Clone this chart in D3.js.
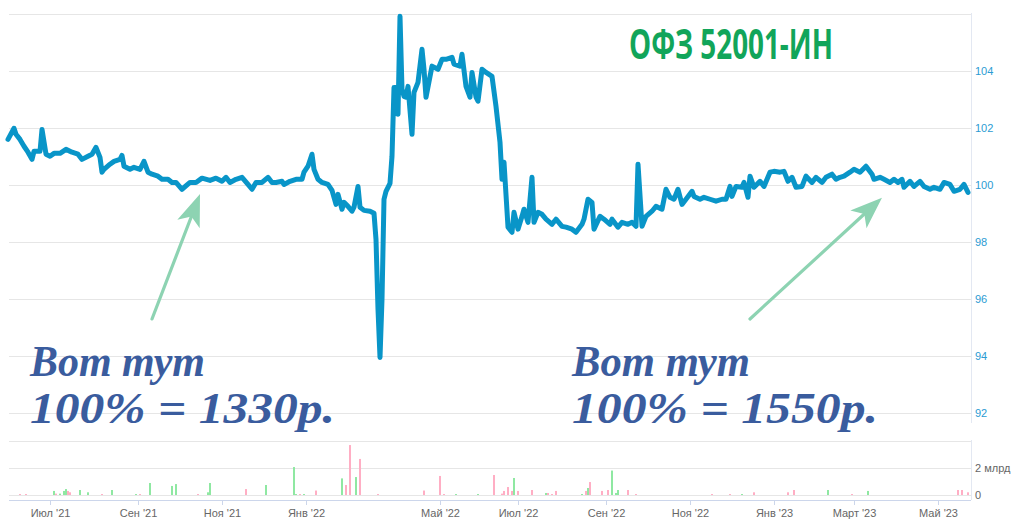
<!DOCTYPE html>
<html><head><meta charset="utf-8">
<script src="https://cdn.jsdelivr.net/npm/d3@7"></script>
<style>
html,body{margin:0;padding:0;background:#fff;}
svg{display:block;font-family:"Liberation Sans",Arial,sans-serif;}
</style></head>
<body>
<svg id="chart" width="1012" height="531"></svg>
<script>
// ---- Data (x = trading-day index from the first point) ----
const title = "ОФЗ 52001-ИН";
const priceDays = [0,3,4,6,8,10,12,13,16,17,19,21,23,26,29,32,35,37,40,42,44,46,47,48,51,53,56,57,58,61,63,66,68,70,72,75,77,80,82,
84,87,91,94,97,101,104,107,109,111,114,117,120,122,124,127,130,132,134,137,138,141,144,147,148,150,152,153,155,157,160,
162,164,165,167,168,170,172,173,175,176,178,181,183,184,185,186,187,188,189,191,192,193,194,195,196,197,198,199,200,202,203,205,207,208,209,211,212,215,217,219,222,223,226,227,229,231,232,234,235,237,239,242,244,246,247,248,
250,252,253,255,257,258,260,262,263,265,267,269,272,274,277,279,282,284,287,288,290,292,293,296,298,301,302,305,307,310,312,314,315,317,319,322,324,327,329,331,
333,335,337,339,342,343,346,348,351,354,357,359,361,362,364,367,368,370,371,373,376,378,381,383,386,388,390,392,394,397,399,402,404,407,409,412,414,
416,418,421,423,426,429,432,433,436,438,441,443,445,447,448,451,453,456,458,461,463,466,468,471,473,476,478,480];
const priceValues = [101.60,101.99,101.78,101.60,101.36,101.15,100.90,101.18,101.18,101.95,101.08,101.01,101.11,101.11,101.25,101.15,101.08,100.90,101.01,101.08,101.32,100.97,100.45,100.55,100.73,100.83,100.90,101.04,100.66,100.55,100.62,100.55,100.83,100.45,100.38,100.31,100.20,100.20,100.09,
100.09,99.85,100.09,100.09,100.24,100.16,100.24,100.13,100.27,100.09,100.20,100.27,100.02,99.85,100.09,100.09,100.27,100.09,100.09,100.13,100.02,100.13,100.20,100.20,100.45,100.66,101.08,100.55,100.20,100.09,100.02,
99.81,99.32,99.67,99.15,99.39,99.25,99.08,99.22,99.95,99.22,99.11,99.08,99.01,98.09,95.64,93.95,95.99,99.50,99.78,100.06,101.01,103.42,103.42,102.48,105.92,103.36,103.11,103.08,103.46,101.78,103.25,103.60,104.76,104.06,103.08,103.81,104.17,104.06,104.41,104.41,104.48,104.24,104.17,104.59,103.46,103.08,103.95,103.08,102.94,104.06,103.95,103.81,102.76,101.50,100.20,100.80,
98.52,98.34,99.04,98.45,98.90,99.15,98.69,100.27,98.69,99.04,98.97,98.80,98.62,98.80,98.55,98.52,98.45,98.34,98.62,98.80,99.50,99.39,98.45,98.90,98.80,98.62,98.80,98.52,98.69,98.62,98.69,98.55,100.73,98.55,98.90,99.08,99.25,99.15,99.85,99.57,
99.50,99.85,99.32,99.50,99.78,99.60,99.50,99.57,99.50,99.43,99.50,99.50,99.95,99.60,99.95,99.92,100.09,99.57,100.31,99.92,100.13,99.95,100.45,100.48,100.45,100.48,100.13,100.27,99.92,99.95,100.31,100.09,100.27,100.09,100.27,100.38,100.20,
100.27,100.31,100.45,100.55,100.45,100.66,100.38,100.20,100.27,100.20,100.09,100.20,100.09,100.20,99.92,100.13,99.95,100.13,99.95,99.85,99.92,99.85,100.09,100.02,99.78,99.85,100.02,99.74];

const volumeDays = [6,9,23,24,26,28,29,30,31,36,40,47,52,64,66,71,82,84,95,100,101,119,129,143,144,146,148,154,167,169,171,174,176,185,208,216,218,224,235,243,
247,248,250,252,253,255,262,269,270,272,274,287,289,290,291,297,300,302,304,305,310,314,352,361,367,373,390,393,410,422,430,475,477,480];
const volumeValues = [0.07,0.07,0.30,0.10,0.10,0.30,0.44,0.30,0.20,0.37,0.20,0.07,0.37,0.07,0.07,0.89,0.67,0.81,0.07,0.20,0.89,0.44,0.74,2.07,0.07,0.07,0.07,0.33,1.23,0.74,3.70,1.33,2.67,0.07,0.33,1.41,0.07,0.07,0.07,1.48,
0.10,0.30,0.59,0.30,1.26,0.30,0.37,0.15,0.15,0.07,0.30,0.07,0.30,0.52,0.96,0.30,0.37,1.81,0.15,0.37,0.37,0.07,0.07,0.07,0.07,0.20,0.20,0.37,0.37,0.07,0.30,0.37,0.37,0.20];
const volumeUp = [0,0,1,0,1,1,1,0,0,1,1,0,1,1,0,1,1,1,0,1,1,0,1,1,1,0,1,0,1,0,0,1,0,0,0,0,0,1,1,0,
0,0,0,0,1,0,0,1,0,0,0,1,0,1,0,0,0,1,1,1,0,0,0,0,1,0,0,0,1,0,1,0,0,0];

const monthTickDays = [21,65,107,149,216,255,299,341,383,423,465];
const monthTickLabels = ["Июл '21","Сен '21","Ноя '21","Янв '22","Май '22","Июл '22","Сен '22","Ноя '22","Янв '23","Март '23","Май '23"];
const priceTicks = [92,94,96,98,100,102,104];
const priceGrid = [92,94,96,98,100,102,104,106];
const volumeTicks = [0,2];
const volumeTickLabels = ["0","2 млрд"];
const volumeGrid = [0,2,4];

// annotations: arrow tip anchored on the data (day, price)
const notes = [
  {line1:"Вот тут", line2:"100% = 1330р.", tipDay:96, tipPrice:99.68, tailDay:72, tailPrice:95.3, textDay:11, len1:175, len2:305},
  {line1:"Вот тут", line2:"100% = 1550р.", tipDay:437, tipPrice:99.55, tailDay:371, tailPrice:95.3, textDay:282, len1:178, len2:306}
];

// ---- Layout ----
const svg = d3.select("#chart");
const left = 9, right = 971;
const x = d3.scaleLinear().domain([0,480]).range([8,968]);
const y = d3.scaleLinear().domain([92,106]).range([413,14]);
const yv = d3.scaleLinear().domain([0,4]).range([495,441]);

// price grid
svg.append("g").selectAll("line").data(priceGrid).join("line")
  .attr("x1",left).attr("x2",right).attr("y1",d=>Math.round(y(d))+0.5).attr("y2",d=>Math.round(y(d))+0.5)
  .attr("stroke","#e6e6e6");
svg.append("line").attr("x1",right+0.5).attr("x2",right+0.5).attr("y1",13).attr("y2",423).attr("stroke","#e3e8f2");

// volume grid
svg.append("g").selectAll("line").data(volumeGrid).join("line")
  .attr("x1",left).attr("x2",right).attr("y1",d=>Math.round(yv(d))+0.5).attr("y2",d=>Math.round(yv(d))+0.5)
  .attr("stroke","#e6e6e6");
svg.append("line").attr("x1",right+0.5).attr("x2",right+0.5).attr("y1",440).attr("y2",500).attr("stroke","#e3e8f2");

// price axis labels
const pa = svg.append("g").attr("transform",`translate(${right},0)`)
  .call(d3.axisRight(y).tickValues(priceTicks).tickSize(0).tickPadding(4).tickFormat(d3.format("d")));
pa.select(".domain").remove();
pa.selectAll("text").attr("fill","#2b9bd3").attr("font-size",11).attr("font-family","Liberation Sans, Arial, sans-serif");

// volume axis labels
const va = svg.append("g").attr("transform",`translate(${right},0)`)
  .call(d3.axisRight(yv).tickValues(volumeTicks).tickSize(0).tickPadding(4).tickFormat((d,i)=>volumeTickLabels[i]));
va.select(".domain").remove();
va.selectAll("text").attr("fill","#666").attr("font-size",11).attr("font-family","Liberation Sans, Arial, sans-serif");

// x axis
const xa = svg.append("g").attr("transform","translate(0,500)")
  .call(d3.axisBottom(x).tickValues(monthTickDays).tickSize(5).tickPadding(4).tickFormat((d,i)=>monthTickLabels[i]));
xa.select(".domain").attr("d",`M${left},0.5H${right}`).attr("stroke","#ccd6eb");
xa.selectAll(".tick line").attr("stroke","#ccd6eb");
xa.selectAll("text").attr("fill","#666").attr("font-size",11).attr("font-family","Liberation Sans, Arial, sans-serif");

// volume bars
const vol = volumeDays.map((d,i)=>({d, v:volumeValues[i], up:volumeUp[i]}));
svg.append("g").selectAll("rect").data(vol).join("rect")
  .attr("x",d=>x(d.d)-1).attr("width",2)
  .attr("y",d=>yv(d.v)).attr("height",d=>yv(0)-yv(d.v))
  .attr("fill",d=>d.up ? "#8fe8a2" : "#ffaec4");

// price line
const pts = priceDays.map((d,i)=>[d, priceValues[i]]);
svg.append("path").datum(pts)
  .attr("d", d3.line().x(d=>x(d[0])).y(d=>y(d[1])))
  .attr("fill","none").attr("stroke","#0995c8").attr("stroke-width",5)
  .attr("stroke-linejoin","round").attr("stroke-linecap","round");

// title
svg.append("text").attr("x",629).attr("y",59).text(title)
  .attr("font-family","'Liberation Sans Narrow','Open Sans',sans-serif").attr("font-weight","bold")
  .attr("font-size",41).attr("fill","#11a55a")
  .attr("textLength",204).attr("lengthAdjust","spacingAndGlyphs");

// annotations
notes.forEach(n=>{
  const tx = x(n.tipDay), ty = y(n.tipPrice);
  const sx = x(n.tailDay), sy = y(n.tailPrice);
  const ang = Math.atan2(ty-sy, tx-sx);
  const headLen = 32, headW = 12;
  const bx = tx - headLen*Math.cos(ang), by = ty - headLen*Math.sin(ang);
  const nx = -Math.sin(ang), ny = Math.cos(ang);
  svg.append("line").attr("x1",sx).attr("y1",sy).attr("x2",bx + 8*Math.cos(ang)).attr("y2",by + 8*Math.sin(ang))
    .attr("stroke","#8dd3b2").attr("stroke-width",3.2).attr("stroke-linecap","round");
  svg.append("path")
    .attr("d",`M${tx},${ty}L${bx+headW*nx},${by+headW*ny}L${bx+8*Math.cos(ang)},${by+8*Math.sin(ang)}L${bx-headW*nx},${by-headW*ny}Z`)
    .attr("fill","#8dd3b2");
  const g = svg.append("g").attr("fill","#3a5c9e")
    .attr("font-family","'Liberation Serif','DejaVu Serif',serif").attr("font-style","italic").attr("font-weight","bold");
  g.append("text").attr("x",x(n.textDay)).attr("y",376).text(n.line1)
    .attr("font-size",44).attr("textLength",n.len1).attr("lengthAdjust","spacingAndGlyphs");
  g.append("text").attr("x",x(n.textDay)).attr("y",423).text(n.line2)
    .attr("font-size",44).attr("textLength",n.len2).attr("lengthAdjust","spacingAndGlyphs");
});
</script>
</body></html>
